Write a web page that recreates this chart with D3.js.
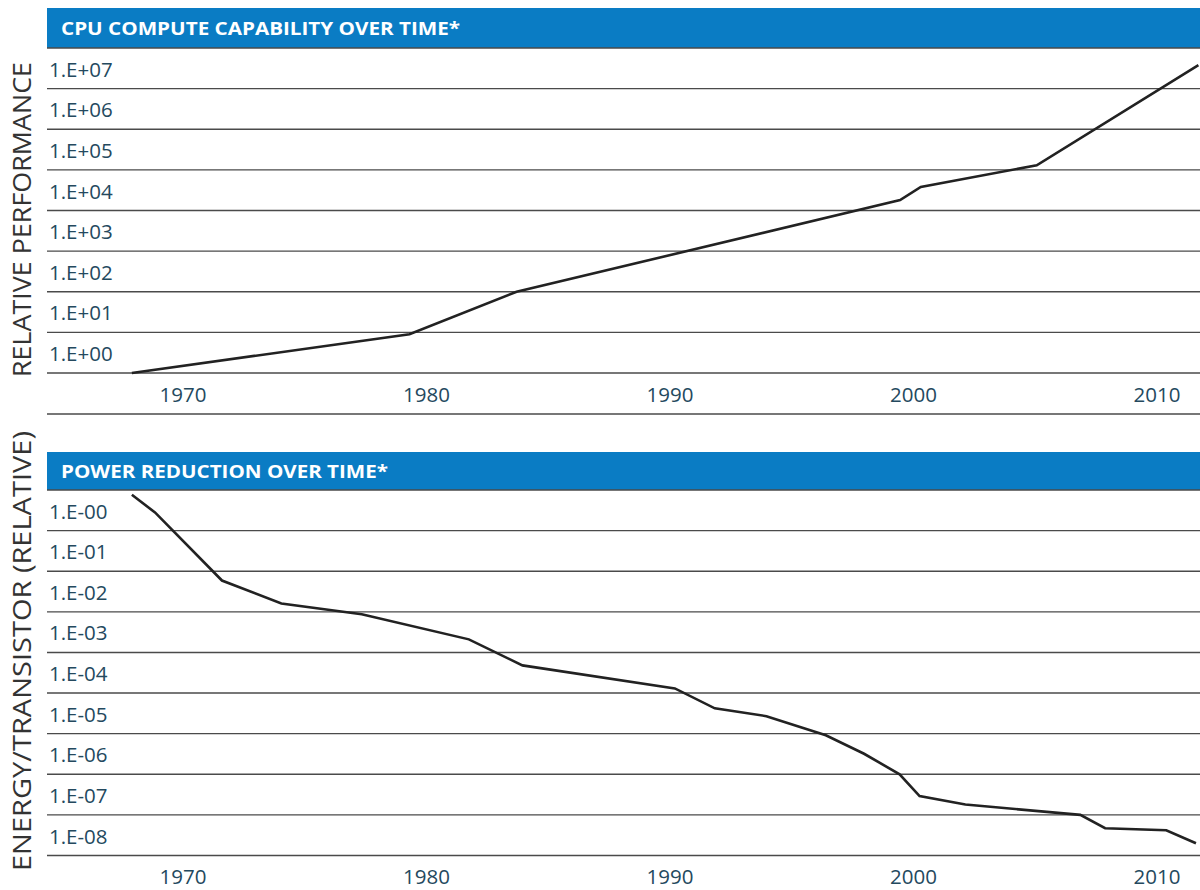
<!DOCTYPE html>
<html>
<head>
<meta charset="utf-8">
<script src="https://cdn.jsdelivr.net/npm/d3@7/dist/d3.min.js"></script>
<style>
  html, body { margin: 0; padding: 0; background: #fff; }
  svg { display: block; }
</style>
</head>
<body>
<svg id="chart" width="1200" height="890"></svg>
<script>
// ---------- DATA ----------
const yearTicks = [1970, 1980, 1990, 2000, 2010];

const cpuYears  = [1967.9, 1979.3, 1983.7, 1999.45, 2000.3, 2005.06, 2011.7];
const cpuValues = [1, 9, 100, 18000, 38000, 130000, 3.8e7];

const powerYears  = [1967.9, 1968.85, 1971.6, 1974.04, 1977.34, 1981.74, 1983.94, 1990.2, 1991.84, 1993.96, 1996.4, 1997.97, 1999.43, 2000.25, 2002.13, 2006.85, 2007.87, 2010.38, 2011.6];
const powerValues = [7.6, 2.8, 0.059, 0.016, 0.0087, 0.0021, 4.8e-4, 1.3e-4, 4.2e-5, 2.7e-5, 9.1e-6, 3.2e-6, 1.0e-6, 2.9e-7, 1.8e-7, 1.0e-7, 4.7e-8, 4.2e-8, 2.0e-8];

const cpuTickValues = [1, 1e1, 1e2, 1e3, 1e4, 1e5, 1e6, 1e7];
const cpuTickLabels = ["1.E+00", "1.E+01", "1.E+02", "1.E+03", "1.E+04", "1.E+05", "1.E+06", "1.E+07"];
const cpuGridValues = [1, 1e1, 1e2, 1e3, 1e4, 1e5, 1e6, 1e7, 1e8];

const powerTickValues = [1, 1e-1, 1e-2, 1e-3, 1e-4, 1e-5, 1e-6, 1e-7, 1e-8];
const powerTickLabels = ["1.E-00", "1.E-01", "1.E-02", "1.E-03", "1.E-04", "1.E-05", "1.E-06", "1.E-07", "1.E-08"];
const powerGridValues = [10, 1, 1e-1, 1e-2, 1e-3, 1e-4, 1e-5, 1e-6, 1e-7, 1e-8];

const titles = ["CPU COMPUTE CAPABILITY OVER TIME*", "POWER REDUCTION OVER TIME*"];
const axisTitles = ["RELATIVE PERFORMANCE", "ENERGY/TRANSISTOR (RELATIVE)"];

// ---------- LAYOUT ----------
const svg = d3.select("#chart");
const W = 1200;
const plotLeft = 47;
const blue = "#0a7cc4";
const gridColor = "#4a4a4a";
const labelColor = "#24495e";
const fontFamily = "'Open Sans', 'Noto Sans', sans-serif";

const x = d3.scaleLinear().domain([1970, 2010]).range([183, 1157]);

const panels = [
  {
    title: titles[0], axisTitle: axisTitles[0], titleWidth: 399,
    headerTop: 8, headerBottom: 48,
    y: d3.scaleLog().domain([1, 1e8]).range([373, 48]),
    tickValues: cpuTickValues, tickLabels: cpuTickLabels, gridValues: cpuGridValues,
    axisLineY: 414, yearBaseline: 402,
    years: cpuYears, values: cpuValues,
    axisTitleY0: 62, axisTitleY1: 377
  },
  {
    title: titles[1], axisTitle: axisTitles[1], titleWidth: 327,
    headerTop: 452, headerBottom: 490,
    y: d3.scaleLog().domain([1e-8, 10]).range([855.5, 490]),
    tickValues: powerTickValues, tickLabels: powerTickLabels, gridValues: powerGridValues,
    axisLineY: null, yearBaseline: 884,
    years: powerYears, values: powerValues,
    axisTitleY0: 431, axisTitleY1: 871
  }
];

panels.forEach(p => {
  const g = svg.append("g");

  // header bar
  g.append("rect")
    .attr("x", plotLeft).attr("y", p.headerTop)
    .attr("width", W - plotLeft).attr("height", p.headerBottom - p.headerTop)
    .attr("fill", blue);
  g.append("text")
    .attr("x", 61).attr("y", (p.headerTop + p.headerBottom) / 2 + 6.5)
    .attr("fill", "#fff")
    .attr("font-family", fontFamily)
    .attr("font-weight", 700)
    .attr("font-size", 18.5)
    .attr("textLength", p.titleWidth)
    .attr("lengthAdjust", "spacingAndGlyphs")
    .text(p.title);

  // gridlines
  g.selectAll("line.grid").data(p.gridValues).enter().append("line")
    .attr("class", "grid")
    .attr("x1", plotLeft).attr("x2", W)
    .attr("y1", d => p.y(d)).attr("y2", d => p.y(d))
    .attr("stroke", gridColor).attr("stroke-width", 1.4);

  if (p.axisLineY !== null) {
    g.append("line")
      .attr("x1", plotLeft).attr("x2", W)
      .attr("y1", p.axisLineY).attr("y2", p.axisLineY)
      .attr("stroke", gridColor).attr("stroke-width", 1.4);
  }

  // y tick labels (sit above their gridline)
  g.selectAll("text.ytick").data(p.tickValues).enter().append("text")
    .attr("class", "ytick")
    .attr("x", 49)
    .attr("y", d => p.y(d) - 12)
    .attr("fill", labelColor)
    .attr("font-family", fontFamily)
    .attr("font-size", 20.5)
    .text((d, i) => p.tickLabels[i]);

  // x tick labels
  g.selectAll("text.xtick").data(yearTicks).enter().append("text")
    .attr("class", "xtick")
    .attr("x", d => x(d))
    .attr("y", p.yearBaseline)
    .attr("text-anchor", "middle")
    .attr("fill", labelColor)
    .attr("font-family", fontFamily)
    .attr("font-size", 20.5)
    .text(d => d);

  // axis title (rotated)
  const cy = (p.axisTitleY0 + p.axisTitleY1) / 2;
  g.append("text")
    .attr("transform", `translate(31,${cy}) rotate(-90)`)
    .attr("text-anchor", "middle")
    .attr("fill", "#333")
    .attr("font-family", fontFamily)
    .attr("font-size", 25)
    .attr("textLength", p.axisTitleY1 - p.axisTitleY0)
    .attr("lengthAdjust", "spacingAndGlyphs")
    .text(p.axisTitle);

  // data line
  const pts = p.years.map((yr, i) => [yr, p.values[i]]);
  const line = d3.line().x(d => x(d[0])).y(d => p.y(d[1]));
  g.append("path")
    .datum(pts)
    .attr("d", line)
    .attr("fill", "none")
    .attr("stroke", "#222")
    .attr("stroke-width", 2.6)
    .attr("stroke-linejoin", "miter");
});
</script>
</body>
</html>
